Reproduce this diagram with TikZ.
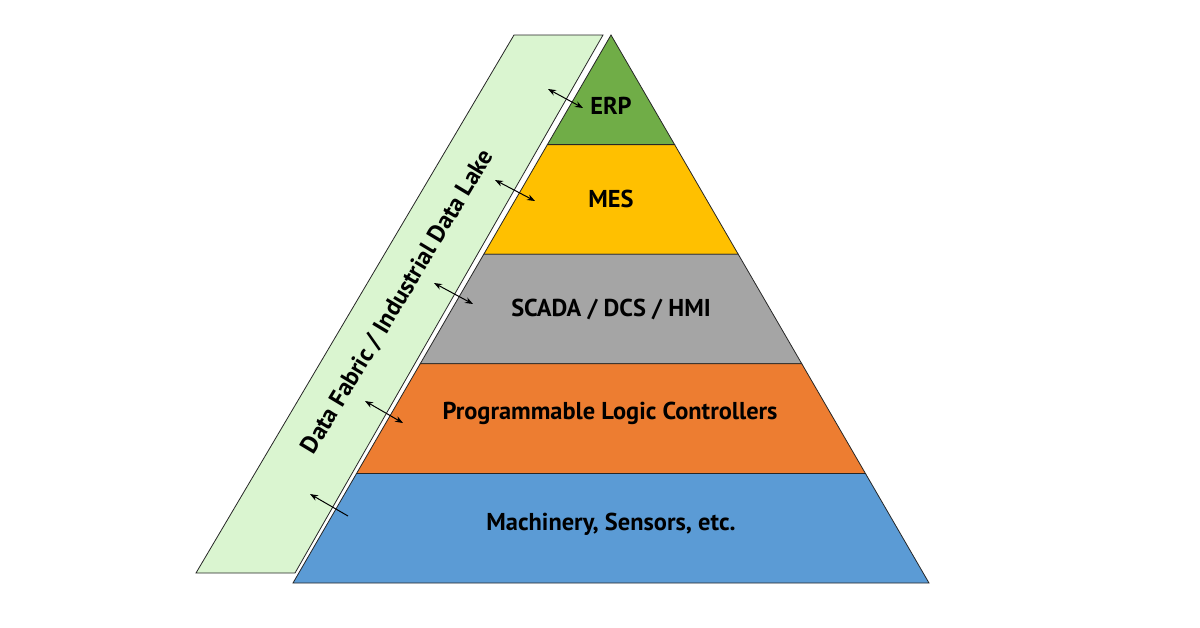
\documentclass[tikz,border=0pt]{standalone}
\usepackage{fontspec}
\setmainfont{PT Sans}
\usepackage{tikz}
\usetikzlibrary{arrows.meta,positioning,calc}
\definecolor{lakegreen}{HTML}{DAF5D0}
\definecolor{erpgreen}{HTML}{70AD47}
\definecolor{mesgold}{HTML}{FFC000}
\definecolor{scadagray}{HTML}{A5A5A5}
\definecolor{plcorange}{HTML}{ED7D31}
\definecolor{fieldblue}{HTML}{5B9BD5}
\definecolor{edgeink}{HTML}{262626}

\begin{document}
\begin{tikzpicture}[x=1pt,y=-1pt,
  layerlabel/.style={font=\fontsize{24.4}{26}\selectfont\bfseries,inner sep=0pt},
  link/.style={{Stealth[length=8pt,width=6pt]}-{Stealth[length=8pt,width=6pt]},line width=1pt}]
  \useasboundingbox (0,0) rectangle (1200,627);
  % data lake band
  \filldraw[fill=lakegreen,draw=edgeink,line width=0.8pt]
    (514,35)--(603,35)--(295,573)--(196,573)--cycle;
  \node[font=\fontsize{24.4}{26}\selectfont\bfseries,rotate=59] (lake) at (398,302)
    {Data Fabric / Industrial Data Lake};
  % pyramid
  \coordinate (apex) at (611,35);
  \coordinate (bl) at (293,583);
  \coordinate (br) at (929,583);
  \foreach \c [count=\i] in {erpgreen,mesgold,scadagray,plcorange,fieldblue}{
    \pgfmathsetmacro{\ta}{(\i-1)/5}
    \pgfmathsetmacro{\tb}{\i/5}
    \filldraw[fill=\c,draw=edgeink,line width=0.8pt]
      ($(apex)!\ta!(bl)$)--($(apex)!\tb!(bl)$)--($(apex)!\tb!(br)$)--($(apex)!\ta!(br)$)--cycle;
  }
  \node[layerlabel] (erp) at (611,106) {ERP};
  \node[layerlabel] (mes) at (611,199) {MES};
  \node[layerlabel] (scada) at (611,309) {SCADA / DCS / HMI};
  \node[layerlabel] (plc) at (610,413) {Programmable Logic Controllers};
  \node[layerlabel] (field) at (611,524) {Machinery, Sensors, etc.};
  % links
  \coordinate (erpA) at (548,89);   \coordinate (erpB) at (583,108);
  \coordinate (mesA) at (495,180);  \coordinate (mesB) at (535,201);
  \coordinate (scadaA) at (434,283); \coordinate (scadaB) at (473,304);
  \coordinate (plcA) at (365,401);  \coordinate (plcB) at (403,423);
  \coordinate (fieldA) at (310,494); \coordinate (fieldB) at (348,516);
  \draw[link] (erpA)--(erpB);
  \draw[link] (mesA)--(mesB);
  \draw[link] (scadaA)--(scadaB);
  \draw[link] (plcA)--(plcB);
  \draw[-{Stealth[length=8pt,width=6pt]},line width=1pt] (fieldB)--(fieldA);
\end{tikzpicture}
\end{document}
